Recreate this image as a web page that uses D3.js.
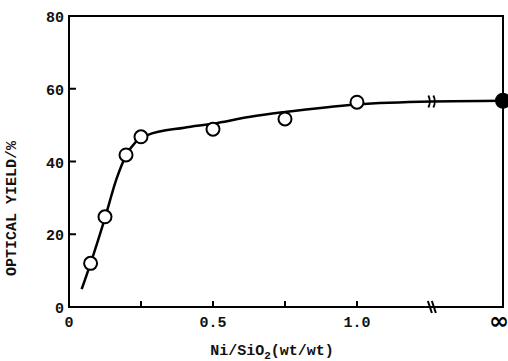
<!DOCTYPE html>
<html>
<head>
<meta charset="utf-8">
<script src="https://cdn.jsdelivr.net/npm/d3@7"></script>
<style>
  body { margin: 0; background: #fff; }
</style>
</head>
<body>
<svg id="drawing_region"></svg>
<script>
// measured points (open circles), x = Ni/SiO2 (wt/wt), y = optical yield %
const ratio = [0.075, 0.125, 0.198, 0.25, 0.5, 0.75, 1.0];
const yieldPct = [12.0, 24.8, 41.8, 46.8, 48.9, 51.7, 56.3];

// pure Ni (ratio = infinity), filled circle
const infYield = 56.7;

// smooth curve drawn through the data
const curveX = [0.044, 0.075, 0.125, 0.165, 0.198, 0.232, 0.27, 0.4, 0.5, 0.63, 0.75, 1.0, 1.26, 'inf'];
const curveY = [4.9, 12.0, 24.5, 35.2, 41.6, 45.4, 47.2, 49.3, 50.4, 52.3, 53.6, 55.7, 56.5, 56.7];

const xTicks = [0.25, 0.5, 0.75, 1.0];
const xTickLabels = [[0, '0'], [0.5, '0.5'], [1.0, '1.0']];
const yTicks = [0, 20, 40, 60, 80];
const xBreak = 1.26;

const FONT = '"Liberation Mono", "Courier New", "DejaVu Sans Mono", monospace';

class YieldPlot {

    constructor(config) {
        this.config = config;
        this.init();
    }

    init() {
        let self = this;
        const m = self.config.margin;

        self.svg = d3.select(self.config.parent)
            .attr('width', self.config.width)
            .attr('height', self.config.height);

        self.inner_width = self.config.width - m.left - m.right;
        self.inner_height = self.config.height - m.top - m.bottom;

        // the infinity point sits on the right frame
        self.xinf = 1.507;
        self.xscale = d3.scaleLinear()
            .domain([0, self.xinf])
            .range([m.left, m.left + self.inner_width]);
        self.yscale = d3.scaleLinear()
            .domain([0, 80])
            .range([m.top + self.inner_height, m.top]);
        self.xv = d => d === 'inf' ? self.xscale(self.xinf) : self.xscale(d);

        self.chart = self.svg.append('g');
    }

    label(sel) {
        return sel.style('font-family', FONT)
            .style('font-weight', 'bold')
            .attr('fill', '#111');
    }

    render() {
        let self = this;
        const x = self.xscale, y = self.yscale;
        const x0 = x(0), x1 = x(self.xinf), y0 = y(0), y1 = y(80);

        // frame
        self.chart.append('rect')
            .attr('x', x0).attr('y', y1)
            .attr('width', x1 - x0).attr('height', y0 - y1)
            .attr('fill', 'none')
            .attr('stroke', 'black')
            .attr('stroke-width', 2);

        // y ticks (inward)
        self.chart.selectAll('.ytick')
            .data(yTicks.filter(d => d > 0 && d < 80))
            .enter().append('line')
            .attr('x1', x0).attr('x2', x0 + 7)
            .attr('y1', d => y(d)).attr('y2', d => y(d))
            .attr('stroke', 'black').attr('stroke-width', 2);

        self.chart.selectAll('.ylab')
            .data(yTicks)
            .enter().append('text')
            .attr('x', x0 - 5)
            .attr('y', d => y(d) + 6)
            .attr('text-anchor', 'end')
            .attr('font-size', '15px')
            .text(d => d)
            .call(s => self.label(s));

        // x ticks (inward)
        self.chart.selectAll('.xtick')
            .data(xTicks)
            .enter().append('line')
            .attr('x1', d => x(d)).attr('x2', d => x(d))
            .attr('y1', y0).attr('y2', y0 - 6)
            .attr('stroke', 'black').attr('stroke-width', 2);

        self.chart.selectAll('.xlab')
            .data(xTickLabels)
            .enter().append('text')
            .attr('x', d => x(d[0]))
            .attr('y', y0 + 20)
            .attr('text-anchor', 'middle')
            .attr('font-size', '15px')
            .text(d => d[1])
            .call(s => self.label(s));

        self.chart.append('text')
            .attr('x', x1 - 4)
            .attr('y', y0 + 22)
            .attr('text-anchor', 'middle')
            .style('font-family', '"DejaVu Sans"')
            .style('font-weight', 'bold')
            .attr('font-size', '24px')
            .text('\u221E');

        // axis break on bottom frame
        const bx = x(xBreak);
        [-2, 2].forEach(off => {
            self.chart.append('line')
                .attr('x1', bx + off - 2).attr('x2', bx + off + 2)
                .attr('y1', y0 - 6).attr('y2', y0 + 6)
                .attr('stroke', 'black').attr('stroke-width', 2);
        });

        // fitted curve
        const line = d3.line()
            .x(d => self.xv(d[0]))
            .y(d => y(d[1]))
            .curve(d3.curveMonotoneX);
        self.chart.append('path')
            .datum(curveX.map((d, i) => [d, curveY[i]]))
            .attr('d', line)
            .attr('fill', 'none')
            .attr('stroke', 'black')
            .attr('stroke-width', 2.5);

        // break marks on the curve
        const cy = y(56.5);
        [-2.5, 2.5].forEach(off => {
            self.chart.append('path')
                .attr('d', `M${bx + off - 1},${cy - 6} Q${bx + off + 2},${cy} ${bx + off - 1},${cy + 6}`)
                .attr('fill', 'none')
                .attr('stroke', 'black').attr('stroke-width', 1.8);
        });

        // open circles
        self.chart.selectAll('.pt')
            .data(ratio.map((d, i) => [d, yieldPct[i]]))
            .enter().append('circle')
            .attr('cx', d => x(d[0]))
            .attr('cy', d => y(d[1]))
            .attr('r', 6.5)
            .attr('fill', 'white')
            .attr('stroke', 'black')
            .attr('stroke-width', 2);

        // filled circle at infinity
        self.chart.append('circle')
            .attr('cx', x1)
            .attr('cy', y(infYield))
            .attr('r', 8)
            .attr('fill', 'black');

        // axis titles
        const xt = self.chart.append('text')
            .attr('x', 272)
            .attr('y', 355)
            .attr('text-anchor', 'middle')
            .attr('font-size', '15px')
            .call(s => self.label(s));
        xt.append('tspan').text('Ni/SiO');
        xt.append('tspan').attr('dy', 4).attr('font-size', '11px').text('2');
        xt.append('tspan').attr('dy', -4).text('(wt/wt)');

        self.chart.append('text')
            .attr('transform', `translate(16, ${(y0 + y1) / 2 + 47}) rotate(-90)`)
            .attr('text-anchor', 'middle')
            .attr('font-size', '15px')
            .text('OPTICAL YIELD/%')
            .call(s => self.label(s));
    }
}

const config = {
    parent: '#drawing_region',
    width: 508,
    height: 361,
    margin: { top: 16, right: 5, bottom: 54, left: 69 }
};

const plot = new YieldPlot(config);
plot.render();
</script>
</body>
</html>
